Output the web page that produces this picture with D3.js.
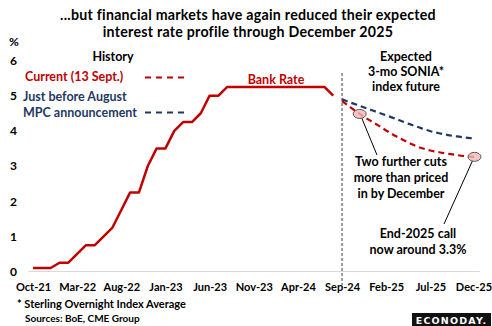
<!DOCTYPE html>
<html>
<head>
<meta charset="utf-8">
<script src="https://cdn.jsdelivr.net/npm/d3@7"></script>
<style>
  html, body { margin: 0; padding: 0; background: #fff; }
  svg { display: block; font-family: Lato, "Open Sans", sans-serif; }
</style>
</head>
<body>
<svg id="chart" width="492" height="326"></svg>
<script>
// ---------- DATA ----------
const titleLines = ["...but financial markets have again reduced their expected",
                    "interest rate profile through December 2025"];
const startMonth = new Date(2021, 9, 1);   // Oct-21
const endMonth = new Date(2025, 11, 1);    // Dec-25
const months = d3.timeMonth.range(startMonth, d3.timeMonth.offset(endMonth, 1)).map(d3.timeFormat("%b-%y"));
const xTickLabels = ["Oct-21","Mar-22","Aug-22","Jan-23","Jun-23","Nov-23","Apr-24","Sep-24","Feb-25","Jul-25","Dec-25"];
const yTicks = [0, 1, 2, 3, 4, 5, 6];

// Bank Rate history, Oct-21 .. Aug-24
const bankRate = [0.1, 0.1, 0.1, 0.25, 0.25, 0.5, 0.75, 0.75, 1.0, 1.25, 1.75, 2.25,
                  2.25, 3.0, 3.5, 3.5, 4.0, 4.25, 4.25, 4.5, 5.0, 5.0, 5.25, 5.25,
                  5.25, 5.25, 5.25, 5.25, 5.25, 5.25, 5.25, 5.25, 5.25, 5.25, 5.0];
// Expected 3-mo SONIA futures, Sep-24 .. Dec-25
const forecastStart = "Sep-24";
const currentCurve = [4.85, 4.66, 4.48, 4.32, 4.17, 4.01, 3.86, 3.73, 3.61, 3.51, 3.44, 3.39, 3.35, 3.31, 3.28, 3.26];
const augustCurve  = [4.90, 4.80, 4.71, 4.62, 4.53, 4.44, 4.35, 4.25, 4.16, 4.07, 3.99, 3.93, 3.88, 3.84, 3.81, 3.78];
const highlighted = [{month: "Nov-24", series: "current"}, {month: "Dec-25", series: "current"}];

// ---------- SETUP ----------
const RED = "#c00000", NAVY = "#1f3864";
const svg = d3.select("#chart");

const x = d3.scalePoint().domain(months).range([28.6, 478.9]).padding(0.5);
const y = d3.scaleLinear().domain([0, 6]).range([271.5, 60.5]);

const fIdx = months.indexOf(forecastStart);
const histData = bankRate.map((v, i) => ({m: months[i], v}));
const curData = currentCurve.map((v, i) => ({m: months[fIdx + i], v}));
const augData = augustCurve.map((v, i) => ({m: months[fIdx + i], v}));

// ---------- TITLE ----------
svg.append("g").selectAll("text").data(titleLines).join("text")
  .attr("x", 248).attr("y", (d, i) => 19.8 + i * 17)
  .attr("text-anchor", "middle")
  .attr("font-size", 14.2).attr("letter-spacing", 0.25).attr("font-weight", "bold").attr("fill", "#000")
  .text(d => d);

// ---------- AXES ----------
svg.append("line")
  .attr("x1", x.range()[0]).attr("x2", x.range()[1] + 1)
  .attr("y1", y(0)).attr("y2", y(0))
  .attr("stroke", "#d9d9d9").attr("stroke-width", 1);

const xAxis = d3.axisBottom(x).tickValues(xTickLabels).tickSize(0).tickPadding(0);
const gx = svg.append("g").attr("transform", `translate(0,${y(0) + 16})`).call(xAxis);
gx.select(".domain").remove();
gx.selectAll("text").attr("font-size", 11).attr("font-weight", "bold")
  .attr("fill", "#000").attr("font-family", "Lato, sans-serif").attr("dy", "0.32em");
gx.selectAll(".tick").filter(d => d === xTickLabels[xTickLabels.length - 1])
  .select("text").attr("dx", -1);

const yAxis = d3.axisLeft(y).tickValues(yTicks).tickSize(0).tickPadding(0).tickFormat(d3.format("d"));
const gy = svg.append("g").attr("transform", `translate(17,0)`).call(yAxis);
gy.select(".domain").remove();
gy.selectAll("text").attr("font-size", 12).attr("font-weight", "bold")
  .attr("fill", "#000").attr("font-family", "Lato, sans-serif").attr("text-anchor", "middle").attr("dx", -3.5);

svg.append("text").attr("x", 14).attr("y", 46).attr("text-anchor", "middle")
  .attr("font-size", 12).attr("font-weight", "bold").text("%");

// ---------- vertical divider ----------
svg.append("line")
  .attr("x1", x(forecastStart)).attr("x2", x(forecastStart))
  .attr("y1", 73).attr("y2", 285)
  .attr("stroke", "#404040").attr("stroke-width", 1).attr("stroke-dasharray", "3,2");

// ---------- LINES ----------
const line = d3.line().x(d => x(d.m)).y(d => y(d.v));
const smooth = d3.line().x(d => x(d.m)).y(d => y(d.v)).curve(d3.curveMonotoneX);

svg.append("path").datum(histData).attr("d", line)
  .attr("fill", "none").attr("stroke", RED).attr("stroke-width", 2.5).attr("stroke-linejoin", "round");

svg.append("path").datum(augData).attr("d", smooth)
  .attr("fill", "none").attr("stroke", NAVY).attr("stroke-width", 2.2).attr("stroke-dasharray", "6,4");
svg.append("path").datum(curData).attr("d", smooth)
  .attr("fill", "none").attr("stroke", RED).attr("stroke-width", 2.2).attr("stroke-dasharray", "6,4");

// ---------- annotations ----------
const hp = highlighted.map(h => {
  const d = curData.find(c => c.m === h.month);
  return {cx: x(d.m), cy: y(d.v)};
});
const leaders = [
  {from: hp[0], dx1: 2, dy1: 4, x2: 377, y2: 155},
  {from: hp[1], dx1: -2, dy1: 4, x2: 444, y2: 224}
];
svg.append("g").selectAll("line").data(leaders).join("line")
  .attr("x1", d => d.from.cx + d.dx1).attr("y1", d => d.from.cy + d.dy1)
  .attr("x2", d => d.x2).attr("y2", d => d.y2)
  .attr("stroke", "#000").attr("stroke-width", 1);

svg.append("g").selectAll("ellipse").data(hp).join("ellipse")
  .attr("cx", d => d.cx).attr("cy", d => d.cy).attr("rx", 6.5).attr("ry", 4.5)
  .attr("fill", "#f2b8b8").attr("fill-opacity", 0.8).attr("stroke", "#595959").attr("stroke-width", 1);

// ---------- texts ----------
function block(lines, xPos, y0, dy, color, size, anchor) {
  svg.append("g").selectAll("text").data(lines).join("text")
    .attr("x", xPos).attr("y", (d, i) => y0 + i * dy)
    .attr("text-anchor", anchor || "middle")
    .attr("font-size", size).attr("font-weight", "bold").attr("fill", color)
    .text(d => d);
}
block(["History"], 113, 61, 0, "#000", 12.5);
block(["Current (13 Sept.)"], 25, 81, 0, RED, 12.5, "start");
block(["Just before August", "MPC announcement"], 23, 101, 16, NAVY, 12.5, "start");
block(["Bank Rate"], 276, 83.5, 0, RED, 12.5);
block(["Expected", "3-mo SONIA*", "index  future"], 406, 61, 15, "#000", 12.5);
block(["Two further cuts", "more than priced", "in by December"], 401, 166, 16, "#000", 12.5);
block(["End-2025 call", "now around 3.3%"], 418, 237.5, 16, "#000", 12.5);
block(["* Sterling Overnight Index Average"], 17, 308, 0, "#000", 11, "start");
block(["Sources: BoE, CME Group"], 25, 322, 0, "#000", 10, "start");

const legend = [{yy: 77.5, c: RED}, {yy: 112.5, c: NAVY}];
svg.append("g").selectAll("line").data(legend).join("line")
  .attr("x1", 145).attr("x2", 184).attr("y1", d => d.yy).attr("y2", d => d.yy)
  .attr("stroke", d => d.c).attr("stroke-width", 2.2).attr("stroke-dasharray", "6,5");

// logo
const logo = svg.append("g");
logo.append("rect").attr("x", 412).attr("y", 313).attr("width", 79).attr("height", 13).attr("fill", "#111");
logo.append("text").attr("x", 451.5).attr("y", 323.5).attr("text-anchor", "middle")
  .attr("font-size", 9.5).attr("font-weight", "900").attr("fill", "#fff")
  .attr("letter-spacing", 1.2).attr("font-family", "'DejaVu Sans', sans-serif").text("ECONODAY.");
</script>
</body>
</html>
